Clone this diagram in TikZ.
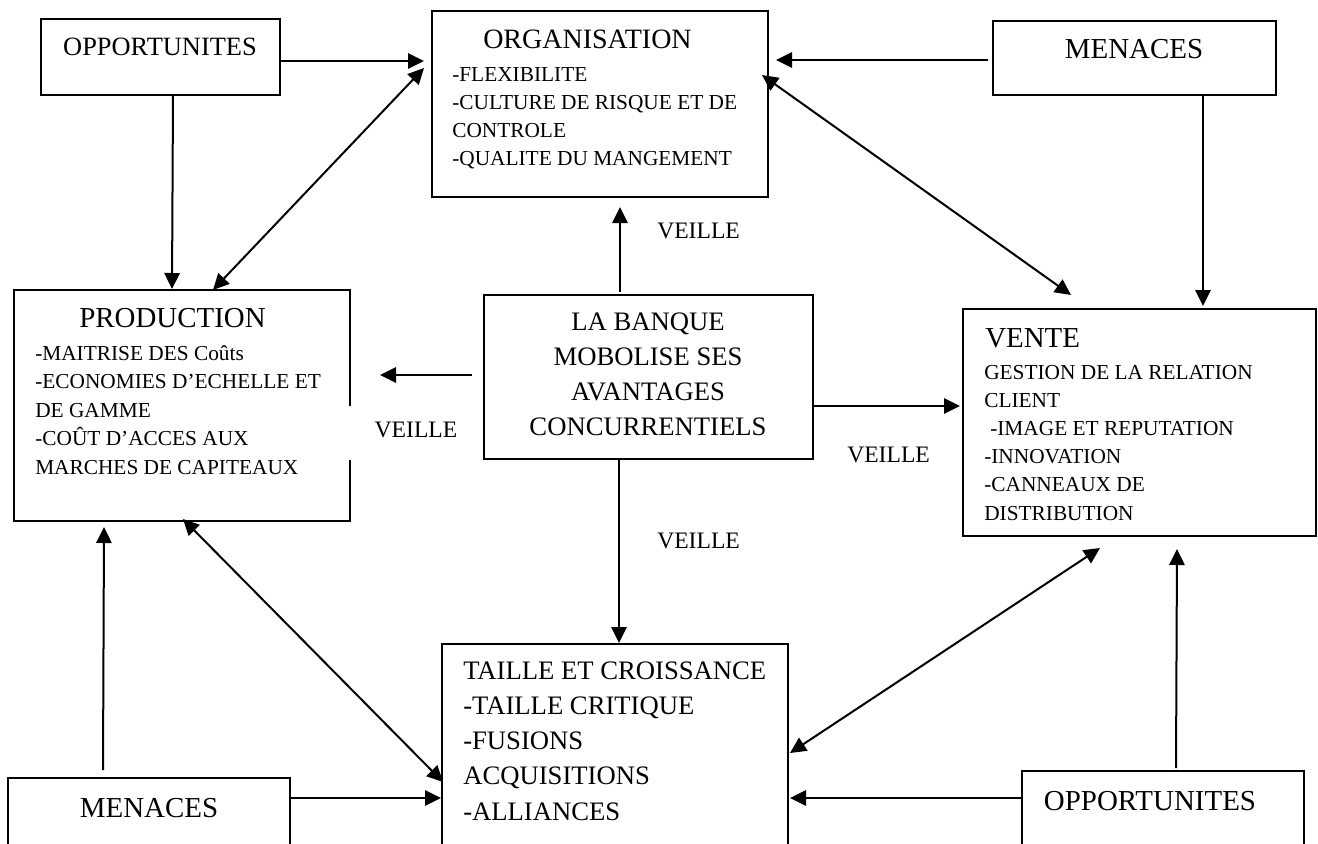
\documentclass[tikz,border=0pt]{standalone}
\usepackage{fontspec}
\setmainfont{Liberation Serif}
\usetikzlibrary{arrows.meta}
\newlength\px
\setlength\px{0.75pt}
\begin{document}
\begin{tikzpicture}[x=0.75pt,y=-0.75pt,
  >={Triangle[length=12pt,width=11.5pt]},
  box/.style={draw, line width=1.5pt, inner sep=0pt, outer sep=0pt, anchor=north west},
  link/.style={line width=1.5pt},
  ln/.style={inner sep=0pt, anchor=base west, font=\fontsize{16pt}{19pt}\selectfont},
  big/.style={inner sep=0pt, anchor=base west, font=\fontsize{20pt}{24pt}\selectfont},
  head/.style={inner sep=0pt, anchor=base, font=\fontsize{21.7pt}{26pt}\selectfont},
  veille/.style={inner sep=0pt, anchor=base west, font=\fontsize{17.7pt}{21pt}\selectfont},
]
\useasboundingbox (0,0) rectangle (1318,843);
\clip (0,0) rectangle (1318,843);

% boxes
\node[box, minimum width=239\px, minimum height=76\px]  (opp1)   at (41,19)   {};
\node[box, minimum width=336\px, minimum height=186\px] (org)    at (432,11)  {};
\node[box, minimum width=283\px, minimum height=74\px]  (men1)   at (993,21)  {};
\node[box, minimum width=336\px, minimum height=231\px] (prod)   at (14,290)  {};
\node[box, minimum width=329\px, minimum height=164\px] (bank)   at (484,295) {};
\node[box, minimum width=353\px, minimum height=227\px] (vente)  at (963,309) {};
\node[box, minimum width=346\px, minimum height=230\px] (taille) at (442,644) {};
\node[box, minimum width=282\px, minimum height=100\px] (men2)   at (8,778)   {};
\node[box, minimum width=282\px, minimum height=100\px] (opp2)   at (1022,771) {};

% headings
\node[head, font=\fontsize{19.8pt}{24pt}\selectfont] (opp1t) at (160,55) {OPPORTUNITES};
\node[head] (men1t) at (1134,58) {MENACES};
\node[head] (men2t) at (149,817) {MENACES};
\node[head] (opp2t) at (1150,810) {OPPORTUNITES};
\node[head, anchor=base west, font=\fontsize{21pt}{25pt}\selectfont] (orgt) at (483,48) {ORGANISATION};
\node[head, anchor=base west] (prodt) at (79,327) {PRODUCTION};
\node[head, anchor=base west] (ventet) at (985,347) {VENTE};

% box contents
\foreach \t [count=\i] in {-FLEXIBILITE, -CULTURE DE RISQUE ET DE, CONTROLE, -QUALITE DU MANGEMENT}
  \node[ln] (orgl\i) at (452,{53+28*\i}) {\t};
\foreach \t [count=\i] in {-MAITRISE DES Coûts, -ECONOMIES D’ECHELLE ET, DE GAMME, -COÛT D’ACCES AUX, MARCHES DE CAPITEAUX}
  \node[ln] (prodl\i) at (35,{331.5+28.5*\i}) {\t};
\foreach \x/\t [count=\i] in {984/GESTION DE LA RELATION, 984/CLIENT, 990/-IMAGE ET REPUTATION, 984/-INNOVATION, 984/-CANNEAUX DE, 984/DISTRIBUTION}
  \node[ln] (ventel\i) at (\x,{350.8+28.2*\i}) {\t};
\foreach \t [count=\i] in {LA BANQUE, MOBOLISE SES, AVANTAGES, CONCURRENTIELS}
  \node[big, anchor=base] (bankl\i) at (648,{294.7+35.3*\i}) {\t};
\foreach \t [count=\i] in {TAILLE ET CROISSANCE, -TAILLE CRITIQUE, -FUSIONS, ACQUISITIONS, -ALLIANCES}
  \node[big] (taillel\i) at (463,{643.75+35.25*\i}) {\t};

% watch labels
\node[veille] (vtop) at (657,238) {VEILLE};
\node[veille] (vright) at (847,462) {VEILLE};
\node[veille] (vbottom) at (657,548) {VEILLE};
\node[veille, fill=white, text width=113\px, align=right, text height=31\px, text depth=23\px] (vleft) at (344,437) {VEILLE};

% connectors
\draw[link,->] ([shift={(239,42)}]opp1.north west) -- ([shift={(-8,50)}]org.north west);
\draw[link,<->] ([shift={(-8,57)}]org.north west) -- ([shift={(199,0)}]prod.north west);
\draw[link,->] ([shift={(132,76)}]opp1.north west) -- ([shift={(158,-1)}]prod.north west);
\draw[link,->] ([shift={(-5,39)}]men1.north west) -- ([shift={(344,49)}]org.north west);
\draw[link,<->] ([shift={(330,64)}]org.north west) -- ([shift={(108,-14)}]vente.north west);
\draw[link,->] ([shift={(210,74)}]men1.north west) -- ([shift={(240,-3)}]vente.north west);
\draw[link,->] ([shift={(136,-3)}]bank.north west) -- ([shift={(188,196)}]org.north west);
\draw[link,->] ([shift={(-12,80)}]bank.north west) -- ([shift={(366,85)}]prod.north west);
\draw[link,->] ([shift={(329,111)}]bank.north west) -- ([shift={(-3,97)}]vente.north west);
\draw[link,->] ([shift={(135,164)}]bank.north west) -- ([shift={(177,-1)}]taille.north west);
\draw[link,<->] ([shift={(169,229)}]prod.north west) -- ([shift={(1,138)}]taille.north west);
\draw[link,->] ([shift={(95,-8)}]men2.north west) -- ([shift={(90,237)}]prod.north west);
\draw[link,->] ([shift={(282,20)}]men2.north west) -- ([shift={(-1,154)}]taille.north west);
\draw[link,<->] ([shift={(348,109)}]taille.north west) -- ([shift={(137,239)}]vente.north west);
\draw[link,->] ([shift={(154,-3)}]opp2.north west) -- ([shift={(214,240)}]vente.north west);
\draw[link,->] ([shift={(0,27)}]opp2.north west) -- ([shift={(348,154)}]taille.north west);
\end{tikzpicture}
\end{document}
